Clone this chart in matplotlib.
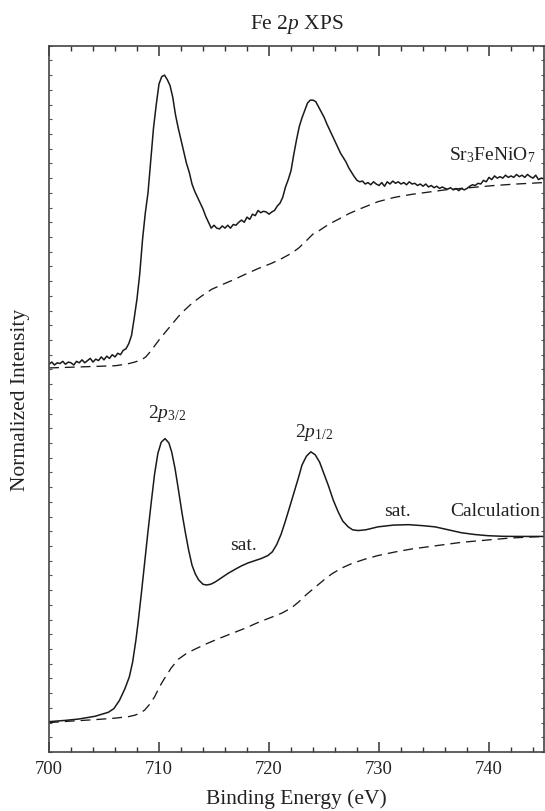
import numpy as np
import matplotlib
matplotlib.use("Agg")
import matplotlib.pyplot as plt
from matplotlib.ticker import MultipleLocator, NullFormatter

plt.rcParams['font.family'] = ['Liberation Serif', 'DejaVu Serif']
plt.rcParams['mathtext.fontset'] = 'custom'
plt.rcParams['mathtext.rm'] = 'Liberation Serif'
plt.rcParams['mathtext.it'] = 'Liberation Serif:italic'
plt.rcParams['mathtext.bf'] = 'Liberation Serif:bold'

# ---------------- data ----------------
# Experimental Sr3FeNiO7 spectrum, 0.25 eV grid from 700 to 745 eV
exp_energy = np.arange(700.0, 745.01, 0.25)
exp_intensity = [
    26.35, 26.5, 26.3, 26.45,
    26.4, 26.55, 26.35, 26.5,
    26.45, 26.3, 26.55, 26.45,
    26.65, 26.45, 26.6, 26.75,
    26.5, 26.7, 26.6, 26.85,
    26.65, 26.9, 26.75, 27.0,
    26.85, 27.1, 27.0, 27.3,
    27.4, 27.75, 28.3, 29.5,
    30.8, 32.5, 34.8, 36.6,
    38.0, 40.2, 42.4, 44.0,
    45.4, 45.9, 46.0, 45.7,
    45.3, 44.5, 43.3, 42.4,
    41.6, 40.8, 40.0, 39.4,
    38.6, 38.1, 37.7, 37.3,
    36.9, 36.4, 36.0, 35.6,
    35.8, 35.6, 35.55, 35.75,
    35.6, 35.8, 35.6, 35.85,
    35.8, 36.0, 36.15, 36.0,
    36.35, 36.2, 36.55, 36.45,
    36.8, 36.65, 36.75, 36.7,
    36.55, 36.7, 36.8, 37.1,
    37.3, 37.7, 38.4, 38.9,
    39.5, 40.6, 41.6, 42.5,
    43.1, 43.6, 44.1, 44.3,
    44.3, 44.2, 43.85, 43.5,
    43.15, 42.7, 42.3, 41.9,
    41.5, 41.1, 40.7, 40.4,
    40.1, 39.7, 39.4, 39.1,
    38.85, 38.75, 38.8, 38.6,
    38.7, 38.55, 38.75, 38.6,
    38.5, 38.7, 38.45, 38.75,
    38.6, 38.8, 38.65, 38.75,
    38.6, 38.7, 38.55, 38.75,
    38.6, 38.65, 38.5, 38.6,
    38.45, 38.6, 38.4, 38.5,
    38.35, 38.45, 38.3, 38.4,
    38.3, 38.25, 38.35, 38.2,
    38.3, 38.15, 38.3, 38.2,
    38.3, 38.45, 38.55, 38.5,
    38.65, 38.6, 38.85, 38.75,
    39.05, 38.9, 39.15, 39.0,
    39.1, 39.0, 39.2, 39.05,
    39.15, 39.05, 39.25, 39.1,
    39.2, 39.05, 39.25, 39.1,
    39.0, 39.2, 38.9, 39.0,
    38.95,
]

# Experimental background (dashed)
exp_bg_energy = [700, 702, 704, 706, 707, 707.8, 708.4, 708.8, 709.2, 709.6,
                 710.1, 710.6, 711.1, 711.6, 712.0, 712.5, 713.0, 713.9, 714.8,
                 715.7, 716.8, 717.8, 719.0, 720.2, 721.2, 722.05, 722.7, 723.4,
                 724.0, 724.5, 725.4, 726.3, 727.3, 728.4, 729.9, 731.45, 733.0,
                 734.5, 736.0, 737.5, 739.0, 740.5, 742.5, 745]
exp_bg_intensity = [26.1, 26.15, 26.2, 26.25, 26.35, 26.5, 26.65, 26.85, 27.2, 27.6,
                    28.1, 28.55, 29.0, 29.45, 29.8, 30.15, 30.5, 31.0, 31.45,
                    31.75, 32.1, 32.45, 32.85, 33.2, 33.55, 33.9, 34.25, 34.75,
                    35.2, 35.4, 35.85, 36.2, 36.6, 36.95, 37.4, 37.7, 37.9,
                    38.05, 38.2, 38.3, 38.4, 38.5, 38.6, 38.7]

# Calculated spectrum
calc_energy = [700, 701.5, 702.7, 704.2, 705.4, 705.9, 706.4, 706.9, 707.3, 707.6,
               707.9, 708.1, 708.4, 708.7, 709.0, 709.3, 709.6, 709.9, 710.2, 710.55,
               710.9, 711.15, 711.45, 711.75, 712.1, 712.4, 712.7, 713.0, 713.3, 713.6,
               714.0, 714.3, 714.7, 715.1, 715.7, 716.3, 717.0, 717.5, 718.1, 718.7,
               719.3, 719.9, 720.3, 720.7, 721.1, 721.45, 721.9, 722.3, 722.7, 723.0,
               723.4, 723.8, 724.2, 724.6, 725.0, 725.4, 725.85, 726.3, 726.7, 727.2,
               727.6, 728.1, 728.8, 729.9, 731.3, 732.7, 734.0, 735.1, 736.3, 737.5,
               738.7, 739.9, 741.2, 742.4, 745]
calc_intensity = [2.06, 2.15, 2.24, 2.43, 2.7, 2.95, 3.5, 4.3, 5.1, 6.1,
                  7.6, 8.8, 10.8, 12.9, 15.0, 17.0, 18.9, 20.3, 21.05, 21.3,
                  21.0, 20.4, 19.3, 17.9, 16.2, 14.9, 13.7, 12.7, 12.1, 11.7,
                  11.4, 11.35, 11.4, 11.55, 11.85, 12.15, 12.45, 12.65, 12.85, 13.0,
                  13.15, 13.35, 13.6, 14.1, 14.8, 15.6, 16.7, 17.7, 18.7, 19.5,
                  20.1, 20.4, 20.2, 19.7, 18.9, 18.1, 17.1, 16.3, 15.7, 15.3,
                  15.1, 15.05, 15.1, 15.3, 15.42, 15.45, 15.38, 15.3, 15.1, 14.9,
                  14.78, 14.7, 14.66, 14.65, 14.65]

# Calculated background (dashed)
calc_bg_energy = [700, 702, 704.2, 706, 707.2, 707.8, 708.3, 708.7, 709.1, 709.6,
                  710.1, 710.5, 711.1, 711.75, 712.5, 713.3, 714.3, 715.4, 716.6,
                  717.8, 719.0, 720.2, 721.2, 722.05, 722.7, 723.4, 724.2, 725.0,
                  725.7, 726.6, 727.5, 728.7, 729.9, 731.5, 733.0, 734.5, 736.0,
                  737.5, 739.0, 740.5, 742.1, 745]
calc_bg_intensity = [2.0, 2.1, 2.2, 2.3, 2.4, 2.5, 2.65, 2.85, 3.2, 3.75,
                     4.5, 5.0, 5.7, 6.3, 6.7, 7.0, 7.35, 7.7, 8.05,
                     8.4, 8.8, 9.15, 9.45, 9.8, 10.2, 10.7, 11.2, 11.7,
                     12.1, 12.5, 12.8, 13.1, 13.35, 13.6, 13.8, 13.95, 14.1,
                     14.25, 14.35, 14.45, 14.55, 14.65]

x_ticks = [700, 710, 720, 730, 740]
x_tick_labels = ["700", "710", "720", "730", "740"]

# ---------------- figure ----------------
W, H = 545, 812
fig = plt.figure(figsize=(W / 100, H / 100), dpi=100)
ax = fig.add_axes([49 / W, 1 - 753 / H, (544 - 49) / W, (753 - 46.7) / H])

line_col = "#1a1a1a"
dash = (0, (7.5, 4.5))
ax.plot(exp_energy, exp_intensity, color=line_col, lw=1.1)
ax.plot(exp_bg_energy, exp_bg_intensity, color=line_col, lw=0.95, ls=dash)
ax.plot(calc_energy, calc_intensity, color=line_col, lw=1.1)
ax.plot(calc_bg_energy, calc_bg_intensity, color=line_col, lw=0.95, ls=dash)

ax.set_xlim(700, 745)
ax.set_ylim(0, 48)

ax.set_xticks(x_ticks)
ax.set_xticklabels(x_tick_labels)
ax.xaxis.set_minor_locator(MultipleLocator(2))
ax.yaxis.set_major_locator(MultipleLocator(1))
ax.yaxis.set_major_formatter(NullFormatter())

ax.tick_params(axis='x', which='major', direction='in', length=7.5, width=1.1,
               top=True, bottom=True, labelsize=13.3, pad=6, colors="#333333",
               labelcolor="#222222")
ax.tick_params(axis='x', which='minor', direction='in', length=3.5, width=1.0,
               top=True, bottom=True, colors="#333333")
ax.tick_params(axis='y', which='major', direction='in', length=2.5, width=0.8,
               left=True, right=True, colors="#555555")

for s in ax.spines.values():
    s.set_linewidth(1.2)
    s.set_color("#444444")

ax.set_xlabel("Binding Energy (eV)", fontsize=15.5, color="#222222", labelpad=8)
ax.set_ylabel("Normalized Intensity", fontsize=15.5, color="#222222", labelpad=10)
ax.set_title(r"Fe 2$p$ XPS", fontsize=15.5, color="#222222", pad=13)

tc = "#222222"
ax.text(740.3, 40.65, r"Sr$_{3}$FeNiO$_{7}$", fontsize=14, ha='center', va='center', color=tc)
ax.text(710.7, 23.1, r"2$p_{\mathrm{3/2}}$", fontsize=14, ha='center', va='center', color=tc)
ax.text(717.7, 14.1, "sat.", fontsize=14, ha='center', va='center', color=tc)
ax.text(724.1, 21.8, r"2$p_{\mathrm{1/2}}$", fontsize=14, ha='center', va='center', color=tc)
ax.text(731.7, 16.4, "sat.", fontsize=14, ha='center', va='center', color=tc)
ax.text(740.6, 16.4, "Calculation", fontsize=14, ha='center', va='center', color=tc)

fig.savefig("out.png", dpi=100)
